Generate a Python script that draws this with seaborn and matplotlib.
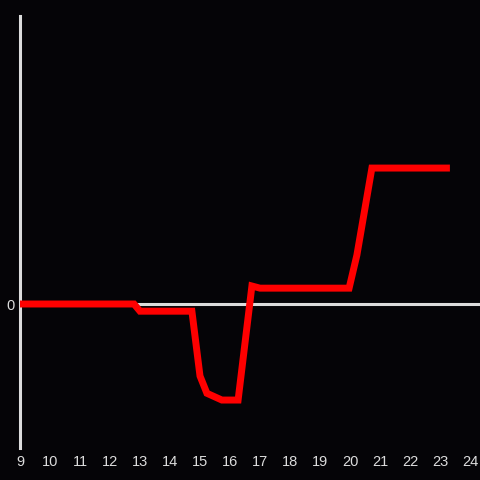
import pandas as pd
import matplotlib
matplotlib.use("Agg")
import matplotlib.pyplot as plt
import seaborn as sb

# values
hours = [9, 12.8, 13.0, 14.73, 15.0, 15.23, 15.73, 16.27, 16.73, 17.0, 19.97, 20.23, 20.73, 23.33]
values = [0, 0, -0.5, -0.5, -5.0, -6.2, -6.67, -6.67, 1.25, 1.1, 1.1, 3.4, 9.44, 9.44]
xticks = list(range(9, 25))
yticks = [0]

df = pd.DataFrame({"hour": hours, "value": values})

bg = "#050407"
fg = "#dcdcdc"

sb.set_style("dark")
plt.rcParams["font.family"] = ["Liberation Sans", "DejaVu Sans"]

fig = plt.figure(figsize=(4.8, 4.8), dpi=100, facecolor=bg)
ax = fig.add_axes([20 / 480, 32 / 480, 460 / 480, 432 / 480])
ax.set_facecolor(bg)

ax.axhline(0, color=fg, lw=2.2, zorder=1)
sb.lineplot(data=df, x="hour", y="value", color="#ff0000", lw=5, ax=ax, zorder=3,
            sort=False, solid_capstyle="butt", solid_joinstyle="miter")

ax.set_xlim(9, 9 + 460 / 30)
ax.set_ylim(-10, 20)
ax.set_xticks(xticks)
ax.set_yticks(yticks)
ax.tick_params(colors=fg, labelsize=10.5, length=0, pad=5)
ax.tick_params(axis="y", pad=4)
ax.set_xlabel("")
ax.set_ylabel("")
ax.grid(False)

for s in ["top", "right", "bottom"]:
    ax.spines[s].set_visible(False)
ax.spines["left"].set_color(fg)
ax.spines["left"].set_linewidth(2.2)

plt.savefig("out.png", facecolor=bg)
